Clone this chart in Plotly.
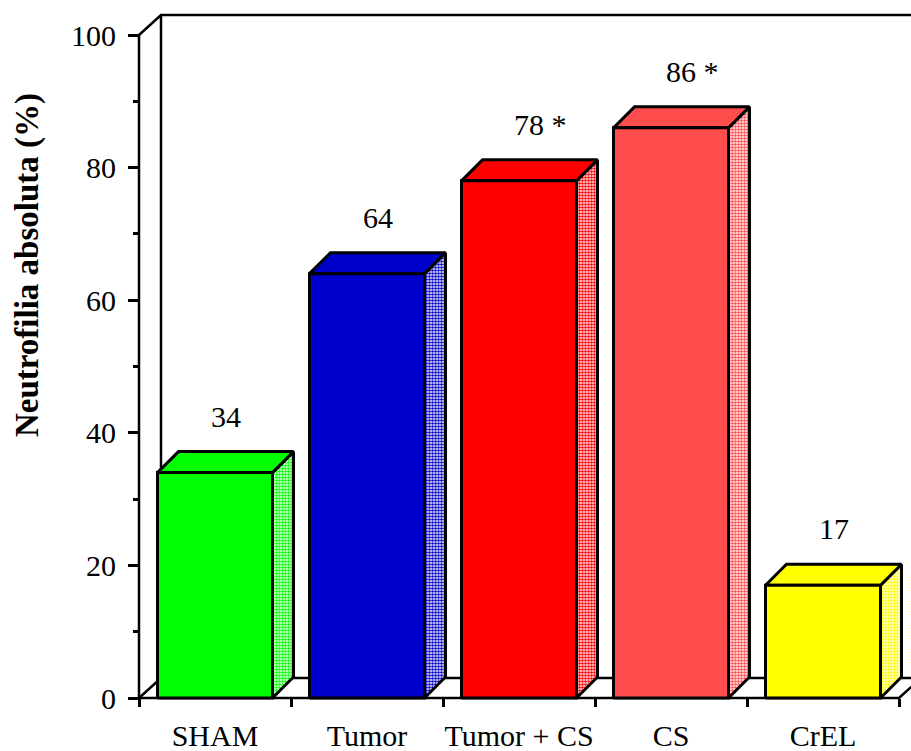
import plotly.graph_objects as go

# ---- data ----
categories = ["SHAM", "Tumor", "Tumor + CS", "CS", "CrEL"]
values = [34, 64, 78, 86, 17]
marks = ["", "", "*", "*", ""]
colors = ["#00FF00", "#0000CC", "#FF0000", "#FF4D4D", "#FFFF00"]
y_ticks = [0, 20, 40, 60, 80, 100]
y_minor = [10, 30, 50, 70, 90]

# ---- geometry (axis units) ----
W, H = 911, 751
PX_X = 152.0          # pixels per category
PX_Y = 6.63           # pixels per percent
X0_PX, Y0_PX = 139, 698
DX = 21 / PX_X        # depth offset of the 3D boxes
DY = 21 / PX_Y
FDX = 22 / PX_X       # depth offset of the frame
FDY = 20 / PX_Y
HALF = 57.5 / PX_X    # half width of a bar front
YMAX = 100
N = len(categories)

dom_left, dom_top, dom_bot = 125, 5, 712
x_range = [(dom_left - X0_PX) / PX_X, (W - X0_PX) / PX_X]
y_range = [(Y0_PX - dom_bot) / PX_Y, (Y0_PX - dom_top) / PX_Y]

fig = go.Figure()


def poly(xs, ys, fill=None, pattern=None, width=3):
    kw = dict(x=list(xs) + [xs[0]], y=list(ys) + [ys[0]], mode="lines",
              line=dict(color="black", width=width), hoverinfo="skip",
              showlegend=False)
    if fill is not None:
        kw.update(fill="toself", fillcolor=fill)
    if pattern is not None:
        kw.update(fill="toself", fillcolor="white", fillpattern=pattern)
    fig.add_trace(go.Scatter(**kw))


def line(xs, ys, width=2.5):
    fig.add_trace(go.Scatter(x=xs, y=ys, mode="lines",
                             line=dict(color="black", width=width),
                             hoverinfo="skip", showlegend=False))


# back wall and floor edges
xr = N + 0.5
line([0, FDX, xr], [YMAX, YMAX + FDY, YMAX + FDY])
line([FDX, FDX], [YMAX + FDY, FDY])
line([0, FDX, xr], [0, FDY, FDY])
line([0, N, N + FDX], [0, 0, FDY])

# 3D bars
for i, (v, col) in enumerate(zip(values, colors)):
    c = i + 0.5
    l, r = c - HALF, c + HALF
    # side face (textured)
    poly([r, r + DX, r + DX, r], [0, DY, v + DY, v],
         pattern=dict(shape=".", fgcolor=col, bgcolor="white",
                      size=3, solidity=0.6, fillmode="replace"))
    # top face
    poly([l, r, r + DX, l + DX], [v, v, v + DY, v + DY], fill=col)
    # front face
    poly([l, r, r, l], [0, 0, v, v], fill=col)

# front vertical axis line
line([0, 0], [0, YMAX])

# value labels
for i, (v, m) in enumerate(zip(values, marks)):
    txt = f"{v} {m}" if m else f"{v}"
    fig.add_annotation(x=i + 0.5 + DX / 2, y=v + 8.5, text=txt,
                       showarrow=False, xanchor="center", yanchor="middle",
                       xshift=11 if m else 0,
                       font=dict(family="Liberation Serif", size=30,
                                 color="black"))

# axis title
fig.add_annotation(x=27 / W, y=1 - 265 / H, xref="paper", yref="paper",
                   text="<b>Neutrofilia absoluta (%)</b>", textangle=-90,
                   showarrow=False, xanchor="center", yanchor="middle",
                   font=dict(family="Liberation Serif", size=33,
                             color="black"))

tickfont = dict(family="Liberation Serif", size=30, color="black")

fig.update_layout(
    template="none",
    width=W, height=H,
    margin=dict(l=0, r=0, t=0, b=0, pad=0),
    paper_bgcolor="white", plot_bgcolor="white",
    showlegend=False,
    xaxis=dict(
        domain=[dom_left / W, 1], range=x_range, anchor="free",
        position=(H - Y0_PX) / H, automargin=False,
        showgrid=False, zeroline=False, showline=False,
        tickmode="array", tickvals=[i + 0.5 for i in range(N)],
        ticktext=categories, ticks="", tickfont=tickfont,
        ticklabelstandoff=17,
        minor=dict(tickmode="array", tickvals=list(range(N + 1)),
                   ticks="outside", ticklen=8, tickwidth=2.5,
                   tickcolor="black", showgrid=False),
    ),
    yaxis=dict(
        domain=[(H - dom_bot) / H, (H - dom_top) / H], range=y_range,
        anchor="free", position=X0_PX / W, automargin=False,
        showgrid=False, zeroline=False, showline=False,
        tickmode="array", tickvals=y_ticks, ticks="outside", ticklen=11,
        tickwidth=2.5, tickcolor="black", tickfont=tickfont,
        ticklabelstandoff=6,
        minor=dict(tickmode="array", tickvals=y_minor, ticks="outside",
                   ticklen=6, tickwidth=2.5, tickcolor="black",
                   showgrid=False),
    ),
)

fig.write_html("out.html")
